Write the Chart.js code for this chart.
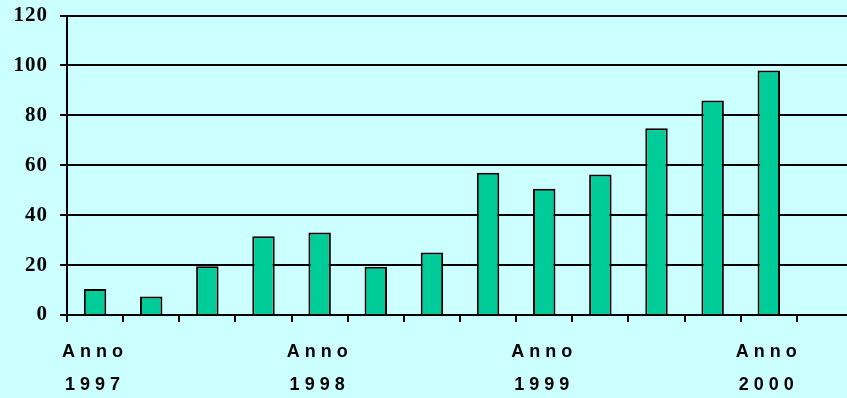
<!DOCTYPE html>
<html>
<head>
<meta charset="utf-8">
<script src="https://cdn.jsdelivr.net/npm/chart.js@4/dist/chart.umd.min.js"></script>
<style>
  html, body { margin: 0; padding: 0; background: #CCFFFF; overflow: hidden; }
  #wrap { position: relative; width: 853px; height: 407px; margin-top: -9px; }
</style>
</head>
<body>
<div id="wrap"><canvas id="c"></canvas></div>
<script>
// Data
const categories = ["Anno 1997", "", "", "", "Anno 1998", "", "", "", "Anno 1999", "", "", "", "Anno 2000", ""];
const values = [10.4, 7.4, 19.5, 31.6, 33.1, 19.3, 25.1, 57, 50.6, 56.3, 74.8, 86, 98, null];
const yTicks = [0, 20, 40, 60, 80, 100, 120];

const labels = categories.map(c => c ? c.split(" ") : "");

const ctx = document.getElementById('c');
const chart = new Chart(ctx, {
  type: 'bar',
  data: {
    labels: labels,
    datasets: [{
      data: values,
      backgroundColor: '#00CC99',
      borderColor: '#000000',
      borderWidth: 2,
      barPercentage: 0.4,
      categoryPercentage: 1.0
    }]
  },
  options: {
    responsive: true,
    maintainAspectRatio: false,
    animation: false,
    events: [],
    layout: { padding: { top: 6, right: 0, bottom: 0, left: 0 } },
    plugins: { legend: { display: false }, tooltip: { enabled: false } },
    scales: {
      x: {
        grid: { display: true, drawOnChartArea: false, offset: true, color: '#000', lineWidth: 2, tickLength: 7 },
        border: { display: true, color: '#000', width: 2 },
        ticks: {
          autoSkip: false, maxRotation: 0, minRotation: 0, padding: 14,
          color: '#000',
          font: { family: '"Liberation Sans", Arial, sans-serif', size: 18, weight: 'bold', lineHeight: 1.8 }
        },
        afterFit: (s) => { s.height = 83; }
      },
      y: {
        min: 0, max: 120,
        afterBuildTicks: (s) => { s.ticks = yTicks.map(v => ({ value: v })); },
        grid: { color: '#000', lineWidth: 2, tickLength: 7 },
        border: { display: true, color: '#000', width: 2 },
        ticks: {
          padding: 12,
          color: '#000',
          font: { family: '"Liberation Serif", "Times New Roman", serif', size: 21, weight: 'bold' }
        },
        afterFit: (s) => { s.width = 67; }
      }
    }
  }
});

// letter spacing for axis tick labels
const xs = chart.scales.x, ys = chart.scales.y;
const origX = xs.drawLabels.bind(xs);
xs.drawLabels = function (ca) { const c = this.ctx; c.letterSpacing = '5px'; origX(ca); c.letterSpacing = '0px'; };
const origY = ys.drawLabels.bind(ys);
ys.drawLabels = function (ca) { const c = this.ctx; c.letterSpacing = '1px'; origY(ca); c.letterSpacing = '0px'; };
chart.draw();
</script>
</body>
</html>
